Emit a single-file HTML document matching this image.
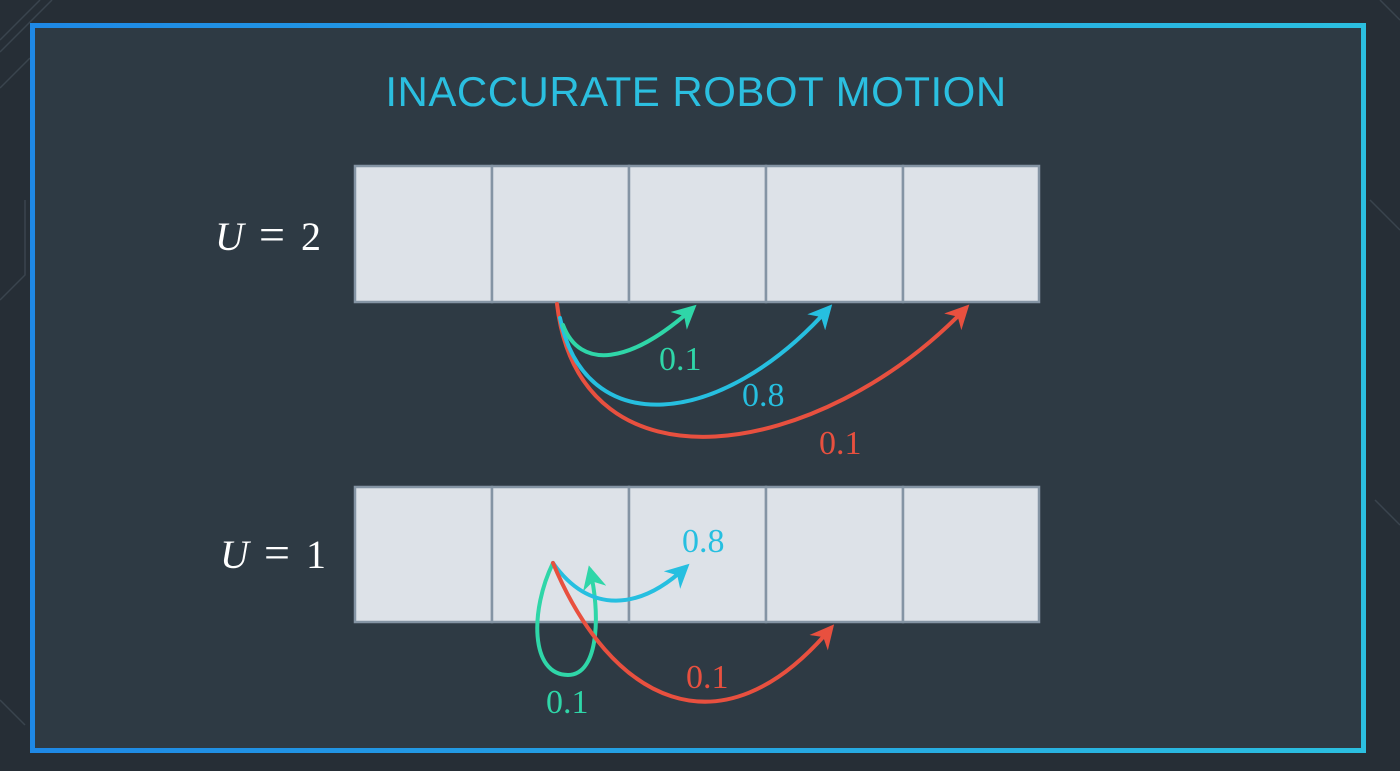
<!DOCTYPE html>
<html><head><meta charset="utf-8"><style>
html,body{margin:0;padding:0;background:#262e36;}
svg{display:block}
</style></head><body>
<svg width="1400" height="771" viewBox="0 0 1400 771" xmlns="http://www.w3.org/2000/svg">
<defs>
<linearGradient id="bg" x1="0" x2="1" y1="0" y2="0">
<stop offset="0" stop-color="#1e88e5"/><stop offset="1" stop-color="#2bbfe0"/>
</linearGradient>
<marker id="ag" viewBox="0 0 10 10" refX="8" refY="5" markerWidth="6" markerHeight="6" orient="auto"><path d="M0,0 L10,5 L0,10 L3,5z" fill="#2fd6a8"/></marker>
<marker id="ab" viewBox="0 0 10 10" refX="8" refY="5" markerWidth="6" markerHeight="6" orient="auto"><path d="M0,0 L10,5 L0,10 L3,5z" fill="#26bfe0"/></marker>
<marker id="ar" viewBox="0 0 10 10" refX="8" refY="5" markerWidth="6" markerHeight="6" orient="auto"><path d="M0,0 L10,5 L0,10 L3,5z" fill="#e8503f"/></marker>
</defs>
<rect width="1400" height="771" fill="#262e36"/>
<g stroke="#3a444e" stroke-width="1.5" fill="none">
<path d="M0,40 L40,0 M0,52 L52,0 M0,88 L30,58 M0,300 L25,275 L25,200 M1380,0 L1400,20 M1370,200 L1400,230 M1375,500 L1400,525 M0,700 L25,725"/>
</g>
<rect x="32.5" y="25.5" width="1331" height="725" fill="#2e3a44" stroke="url(#bg)" stroke-width="5"/>
<text x="696" y="106" text-anchor="middle" font-family="Liberation Sans, sans-serif" font-size="42" fill="#2bbfe0" letter-spacing="0.5">INACCURATE ROBOT MOTION</text>
<g fill="#dde2e8" stroke="#8494a4" stroke-width="2.5">
<rect x="355" y="166" width="137" height="136"/><rect x="492" y="166" width="137" height="136"/><rect x="629" y="166" width="137" height="136"/><rect x="766" y="166" width="137" height="136"/><rect x="903" y="166" width="136" height="136"/>
<rect x="355" y="487" width="137" height="135"/><rect x="492" y="487" width="137" height="135"/><rect x="629" y="487" width="137" height="135"/><rect x="766" y="487" width="137" height="135"/><rect x="903" y="487" width="136" height="135"/>
</g>
<g font-family="Liberation Serif, serif" font-size="40" fill="#ffffff">
<text x="215" y="250" font-style="italic">U</text><text x="259" y="250" font-size="46">=</text><text x="301" y="250">2</text>
<text x="220" y="568" font-style="italic">U</text><text x="264" y="568" font-size="46">=</text><text x="306" y="568">1</text>
</g>
<g fill="none" stroke-width="4" stroke-linecap="round">
<path d="M557,304 C580,500 820,460 966,308" stroke="#e8503f" marker-end="url(#ar)"/>
<path d="M560,318 C585,440 720,430 829,308" stroke="#26bfe0" marker-end="url(#ab)"/>
<path d="M563,325 C580,370 630,365 693,308" stroke="#2fd6a8" marker-end="url(#ag)"/>
<path d="M553,563 C530,610 530,675 568,675 C600,675 600,610 590,570" stroke="#2fd6a8" marker-end="url(#ag)"/>
<path d="M553,563 C590,615 640,610 686,567" stroke="#26bfe0" marker-end="url(#ab)"/>
<path d="M553,563 C610,700 720,760 831,628" stroke="#e8503f" marker-end="url(#ar)"/>
</g>
<g font-family="Liberation Serif, serif" font-size="34">
<text x="659" y="370" fill="#2fd6a8">0.1</text>
<text x="742" y="406" fill="#26bfe0">0.8</text>
<text x="819" y="454" fill="#e8503f">0.1</text>
<text x="682" y="552" fill="#26bfe0">0.8</text>
<text x="686" y="688" fill="#e8503f">0.1</text>
<text x="546" y="713" fill="#2fd6a8">0.1</text>
</g>
</svg>
</body></html>
